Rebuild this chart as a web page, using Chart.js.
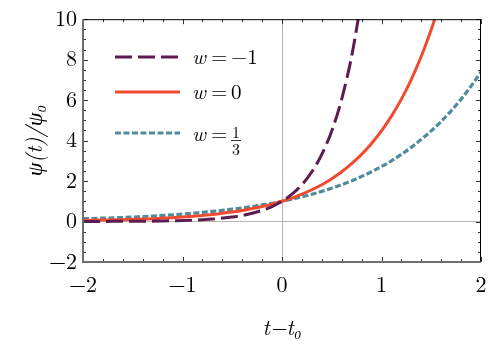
<!DOCTYPE html>
<html>
<head>
<meta charset="utf-8">
<script src="https://cdn.jsdelivr.net/npm/chart.js@4/dist/chart.umd.min.js"></script>
<style>
  html, body { margin: 0; padding: 0; background: #fff; }
</style>
</head>
<body>
<canvas id="grafico" width="498" height="347"></canvas>
<script>
// valores, t - t0 cada 0.1
var tiempos = [-2.0, -1.9, -1.8, -1.7, -1.6, -1.5, -1.4, -1.3, -1.2, -1.1,
               -1.0, -0.9, -0.8, -0.7, -0.6, -0.5, -0.4, -0.3, -0.2, -0.1,
                0.0,  0.1,  0.2,  0.3,  0.4,  0.5,  0.6,  0.7,  0.8,  0.9,
                1.0,  1.1,  1.2,  1.3,  1.4,  1.5,  1.6,  1.7,  1.8,  1.9, 2.0];

var psiMenosUno = [0.00, 0.00, 0.00, 0.01, 0.01, 0.01, 0.02, 0.02, 0.03, 0.04,
                   0.05, 0.07, 0.09, 0.12, 0.17, 0.22, 0.30, 0.41, 0.55, 0.74,
                   1.00, 1.35, 1.82, 2.46, 3.32, 4.48, 6.05, 8.17, 11.0];

var psiCero = [0.05, 0.06, 0.07, 0.08, 0.09, 0.11, 0.12, 0.14, 0.17, 0.19,
               0.22, 0.26, 0.30, 0.35, 0.41, 0.47, 0.55, 0.64, 0.74, 0.86,
               1.00, 1.16, 1.35, 1.57, 1.82, 2.12, 2.46, 2.86, 3.32, 3.86,
               4.48, 5.21, 6.05, 7.03, 8.17, 9.49, 11.0];

var psiTercio = [0.14, 0.15, 0.17, 0.18, 0.20, 0.22, 0.25, 0.27, 0.30, 0.33,
                 0.37, 0.41, 0.45, 0.50, 0.55, 0.61, 0.67, 0.74, 0.82, 0.90,
                 1.00, 1.11, 1.22, 1.35, 1.49, 1.65, 1.82, 2.01, 2.23, 2.46,
                 2.72, 3.00, 3.32, 3.67, 4.06, 4.48, 4.95, 5.47, 6.05, 6.69, 7.39];

var etiquetas = ['w = \u22121', 'w = 0', 'w = 1/3'];
var ticksX = [-2, -1, 0, 1, 2];
var ticksY = [-2, 0, 2, 4, 6, 8, 10];

var fuente = '"Latin Modern Roman"';

function puntos(valores) {
    var lista = [];
    for (var i = 0; i < valores.length; i++) {
        lista.push({ x: tiempos[i], y: valores[i] });
    }
    return lista;
}

function menos(v) {
    return String(v).replace('-', '\u2212');
}

// marco con marcas hacia dentro
var marco = {
    id: 'marco',
    afterDraw: function (chart) {
        var ctx = chart.ctx;
        var a = chart.chartArea;
        var sx = chart.scales.x, sy = chart.scales.y;
        ctx.save();
        ctx.lineWidth = 1;
        ctx.strokeStyle = '#333';
        ctx.beginPath();
        // marcas eje x (abajo y arriba)
        for (var k = -20; k <= 20; k += 2) {
            var px = Math.round(sx.getPixelForValue(k / 10)) + 0.5;
            var largo = (k % 10 === 0) ? 5 : 3;
            ctx.moveTo(px, a.bottom); ctx.lineTo(px, a.bottom - largo);
            ctx.moveTo(px, a.top); ctx.lineTo(px, a.top + largo);
        }
        // marcas eje y (izquierda y derecha)
        for (var j = -4; j <= 20; j++) {
            var py = Math.round(sy.getPixelForValue(j / 2)) + 0.5;
            var l2 = (j % 4 === 0) ? 5 : 3;
            ctx.moveTo(a.left, py); ctx.lineTo(a.left + l2, py);
            ctx.moveTo(a.right, py); ctx.lineTo(a.right - l2, py);
        }
        ctx.stroke();

        ctx.strokeStyle = '#000';
        ctx.beginPath();
        ctx.moveTo(a.left, a.top + 0.5); ctx.lineTo(a.right, a.top + 0.5);
        ctx.moveTo(a.right - 0.5, a.top); ctx.lineTo(a.right - 0.5, a.bottom);
        ctx.stroke();

        ctx.strokeStyle = '#6e6e6e';
        ctx.lineWidth = 2;
        ctx.beginPath();
        ctx.moveTo(a.left, a.bottom); ctx.lineTo(a.right, a.bottom);
        ctx.moveTo(a.left, a.top); ctx.lineTo(a.left, a.bottom + 1);
        ctx.stroke();
        ctx.restore();
    }
};

// leyenda dentro del area
var leyenda = {
    id: 'leyenda',
    afterDatasetsDraw: function (chart) {
        var ctx = chart.ctx;
        var filas = [57, 92, 133];
        var textoY = [58, 93, 135];
        ctx.save();
        chart.data.datasets.forEach(function (ds, i) {
            var y = filas[i];
            ctx.strokeStyle = ds.borderColor;
            ctx.lineWidth = ds.borderWidth;
            ctx.setLineDash(ds.borderDash || []);
            ctx.beginPath();
            ctx.moveTo(115, y); ctx.lineTo(180, y);
            ctx.stroke();
            ctx.setLineDash([]);

            var partes = ds.label.split(' = ');
            var ty = textoY[i];
            ctx.fillStyle = '#000';
            ctx.textBaseline = 'middle';
            ctx.textAlign = 'left';
            ctx.font = 'italic 21px ' + fuente;
            ctx.fillText(partes[0], 192, ty);
            ctx.font = '21px ' + fuente;
            ctx.fillText('=', 211, ty);
            var valor = partes[1];
            if (valor.indexOf('/') >= 0) {
                var f = valor.split('/');
                ctx.font = '16px ' + fuente;
                ctx.textAlign = 'center';
                ctx.fillText(f[0], 236, 133);
                ctx.fillText(f[1], 236, 150);
                ctx.fillRect(231, 140, 10, 0.8);
            } else {
                ctx.fillText(valor, 231, ty);
            }
        });
        ctx.restore();
    }
};

var datos = {
    datasets: [
        {
            label: etiquetas[0],
            data: puntos(psiMenosUno),
            borderColor: '#5e1b51',
            borderWidth: 3,
            borderDash: [17, 6],
            pointRadius: 0,
            fill: false,
            cubicInterpolationMode: 'monotone'
        },
        {
            label: etiquetas[1],
            data: puntos(psiCero),
            borderColor: '#f24a2f',
            borderWidth: 3,
            pointRadius: 0,
            fill: false,
            cubicInterpolationMode: 'monotone'
        },
        {
            label: etiquetas[2],
            data: puntos(psiTercio),
            borderColor: '#4d8c9c',
            borderWidth: 3.2,
            borderDash: [6, 2.5],
            pointRadius: 0,
            fill: false,
            cubicInterpolationMode: 'monotone'
        }
    ]
};

var configuracion = {
    type: 'line',
    data: datos,
    options: {
        responsive: false,
        animation: false,
        devicePixelRatio: 1,
        layout: { padding: { top: 16, right: 17, left: 0, bottom: 0 } },
        plugins: {
            legend: { display: false },
            tooltip: { enabled: false }
        },
        scales: {
            x: {
                type: 'linear',
                min: -2,
                max: 2,
                afterBuildTicks: function (s) {
                    s.ticks = ticksX.map(function (v) { return { value: v }; });
                },
                afterFit: function (s) { s.height = 85; },
                ticks: {
                    color: '#000',
                    padding: 10,
                    maxRotation: 0,
                    font: { family: fuente, size: 22 },
                    callback: function (v) { return menos(v); }
                },
                grid: {
                    drawTicks: false,
                    color: function (c) { return c.tick && c.tick.value === 0 ? '#b5b5b5' : 'rgba(0,0,0,0)'; },
                    lineWidth: 1
                },
                border: { display: false },
                title: {
                    display: true,
                    text: 't\u2212t\u2080',
                    color: '#000',
                    font: { family: fuente, size: 22, style: 'italic' },
                    padding: { top: 0, bottom: 6 }
                }
            },
            y: {
                type: 'linear',
                min: -2,
                max: 10,
                afterBuildTicks: function (s) {
                    s.ticks = ticksY.map(function (v) { return { value: v }; });
                },
                afterFit: function (s) { s.width = 83; },
                ticks: {
                    color: '#000',
                    padding: 6,
                    font: { family: fuente, size: 22 },
                    callback: function (v) { return menos(v); }
                },
                grid: {
                    drawTicks: false,
                    color: function (c) { return c.tick && c.tick.value === 0 ? '#b5b5b5' : 'rgba(0,0,0,0)'; },
                    lineWidth: 1
                },
                border: { display: false },
                title: {
                    display: true,
                    text: '\u03c8(t)/\u03c8\u2080',
                    color: '#000',
                    font: { family: fuente, size: 22, style: 'italic' },
                    padding: { top: 22, bottom: 0 }
                }
            }
        }
    },
    plugins: [marco, leyenda]
};

var miGrafico = new Chart(document.getElementById('grafico'), configuracion);
</script>
</body>
</html>
